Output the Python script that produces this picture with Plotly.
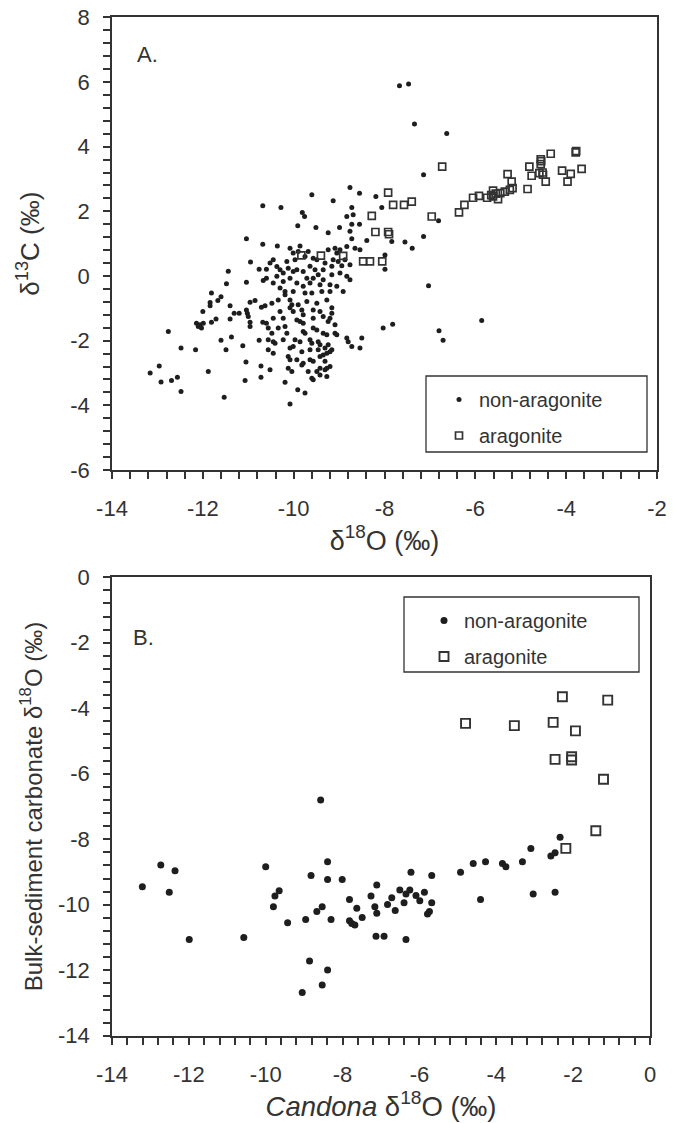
import plotly.graph_objects as go

# ---------------- Panel A data: d18O vs d13C ----------------
a_non_x = [
    # upper / middle dense cluster
    -8.76, -8.55, -9.60, -9.13, -8.19, -8.06, -8.72, -10.28, -9.81, -9.76, -8.83, -8.69, -9.91, -9.51, -9.24, -8.99,
    -8.72, -8.55, -8.76, -8.72, -8.39, -7.84, -10.36, -10.08, -9.86, -10.01, -9.90, -9.68, -9.75, -10.45, -10.52, -10.37,
    -10.15, -9.97, -9.57, -9.49, -9.24, -9.09, -9.05, -8.98, -8.83, -8.65, -8.54, -9.13, -9.02, -8.87, -8.94, -8.76,
    -9.16, -9.31, -10.30, -10.23, -10.37, -10.12, -10.01, -9.93, -9.79, -9.64, -9.53, -9.46, -9.35, -9.71, -9.57, -9.35,
    -9.16, -8.98, -8.83, -8.76, -9.64, -9.42, -9.20, -9.05, -9.93, -9.79, -10.08, -10.23, -10.45, -10.30, -7.99, -7.99,
    # left-upper
    -10.68, -11.04, -10.68, -10.95, -11.44, -10.76, -10.60, -11.48, -11.04, -10.67, -10.60,
    # left-lower
    -11.81, -11.60, -11.67, -11.84, -11.84, -11.40, -12.00, -11.31, -11.20, -10.96, -10.85, -11.04, -11.02, -11.00, -10.96, -10.96,
    -10.71, -10.63, -11.40, -11.71, -11.81, -12.14, -12.06, -12.03, -11.99, -12.10, -12.76, -11.60, -11.37, -11.49, -11.12, -10.76,
    -10.56, -12.48, -12.16, -12.96, -13.16, -12.92, -12.69, -12.56, -12.48, -11.88, -11.05, -10.72, -11.07, -10.72, -11.53, -10.68,
    -10.60, -10.56, -10.56,
    # lower dense cluster
    -10.19, -10.19, -10.01, -9.75, -9.60, -9.38, -9.20, -8.91,
    -10.48, -10.34, -10.08, -10.04, -10.08, -9.71, -9.49, -9.27, -9.90,
    -10.30, -10.01, -9.82, -9.79, -9.57, -9.42, -9.16, -9.16,
    -10.45, -10.23, -9.93, -9.86, -9.79, -9.57, -9.35, -9.20, -9.24, -9.09,
    -10.34, -10.19, -10.48, -10.15, -9.79, -9.75, -9.57, -9.49, -9.35, -9.27, -9.09, -9.05,
    -10.45, -10.41, -10.23, -9.97, -9.86, -9.64, -9.60, -9.46, -9.42, -9.24, -8.83, -8.80, -8.72, -8.54, -8.50, -8.03, -7.82,
    -10.08, -10.01, -9.82, -9.64, -9.46, -9.31, -9.27, -9.16,
    -10.45, -10.12, -10.08, -9.93, -9.79, -9.64, -9.57, -9.42, -9.35, -9.31, -9.20,
    -10.12, -10.04, -9.82, -9.68, -9.49, -9.42, -9.31, -9.27, -9.20,
    -10.52, -9.60, -9.57, -9.42, -9.27, -10.19, -9.91, -9.75, -10.08,
    # right-hand scattered points
    -7.67, -7.47, -7.34, -6.63, -7.14, -7.55, -7.39, -7.14, -6.81, -7.03, -5.86, -6.80, -6.71,
]
a_non_y = [
    2.74, 2.56, 2.51, 2.33, 2.46, 2.12, 2.12, 2.12, 1.96, 1.84, 1.84, 1.89, 1.55, 1.50, 1.34, 1.50,
    1.60, 1.60, 1.38, 1.15, 1.10, 1.07, 0.93, 0.86, 0.93, 0.71, 0.76, 0.76, 0.60, 0.50, 0.40, 0.29,
    0.45, 0.50, 0.55, 0.50, 0.81, 0.86, 0.71, 0.81, 0.91, 0.86, 0.81, 0.50, 0.45, 0.50, 0.32, 0.35,
    0.30, 0.40, 0.19, 0.09, -0.01, 0.24, 0.14, 0.19, 0.14, 0.30, 0.19, 0.04, 0.19, -0.07, -0.07, -0.12,
    0.04, 0.09, -0.01, -0.12, -0.22, -0.27, -0.27, -0.32, -0.22, -0.32, -0.07, -0.17, -0.22, -0.37, 0.65, 0.21,
    2.17, 1.15, 0.98, 0.43, 0.15, 0.21, 0.21, -0.24, -0.19, -0.14, -0.07,
    -0.53, -0.64, -0.76, -0.82, -0.92, -0.92, -1.10, -1.15, -1.15, -0.81, -0.76, -1.05, -1.15, -1.25, -1.43, -1.56,
    -0.97, -0.92, -1.33, -1.33, -1.43, -1.46, -1.51, -1.61, -1.46, -1.56, -1.72, -1.99, -1.89, -2.28, -2.16, -1.99,
    -2.28, -2.23, -2.28, -2.78, -3.00, -3.28, -3.23, -3.13, -3.57, -2.95, -2.66, -2.78, -3.23, -3.13, -3.75, -1.43,
    -1.46, -1.61, -1.97,
    -0.48, -0.58, -0.48, -0.53, -0.53, -0.48, -0.48, -0.48,
    -0.84, -0.74, -0.74, -0.89, -0.98, -0.79, -0.84, -0.74, -0.89,
    -1.10, -1.10, -1.05, -1.20, -1.05, -1.10, -1.15, -0.98,
    -1.31, -1.31, -1.36, -1.41, -1.46, -1.31, -1.25, -1.31, -1.41, -1.51,
    -1.61, -1.56, -1.77, -1.77, -1.72, -1.77, -1.61, -1.67, -1.77, -1.82, -1.77, -1.82,
    -2.03, -2.08, -1.97, -1.97, -2.03, -1.97, -2.08, -2.03, -2.13, -2.13, -1.92, -2.03, -2.18, -2.23, -1.92, -1.61, -1.49,
    -2.23, -2.18, -2.34, -2.28, -2.28, -2.23, -2.39, -2.28,
    -2.39, -2.49, -2.59, -2.59, -2.70, -2.59, -2.64, -2.49, -2.44, -2.64, -2.34,
    -2.85, -2.95, -2.75, -2.95, -2.95, -2.85, -2.90, -2.85, -2.80,
    -2.90, -3.16, -3.21, -3.06, -3.11, -3.29, -3.52, -3.62, -3.96,
    5.88, 5.94, 4.70, 4.41, 3.13, 1.05, 0.86, 1.22, 1.71, -0.30, -1.38, -1.69, -1.99,
]
a_ara_x = [
    -9.83, -9.40, -8.91, -8.47, -8.32, -8.05, -8.28, -8.20, -7.90, -7.92, -7.92, -7.81, -7.57, -7.40, -6.96, -6.73,
    -6.36, -6.24, -6.05, -5.92, -5.74, -5.61, -5.61, -5.50, -5.45, -5.35, -5.29, -5.20, -5.18, -5.24, -4.85, -4.81,
    -4.76, -4.56, -4.56, -4.59, -4.51, -4.45, -4.34, -4.09, -3.97, -3.90, -3.79, -3.66, -5.55, -5.65, -4.55, -3.78, -4.52,
]
a_ara_y = [
    0.64, 0.63, 0.62, 0.45, 0.45, 0.45, 1.86, 1.36, 1.29, 1.36, 2.58, 2.20, 2.20, 2.30, 1.84, 3.38,
    1.97, 2.20, 2.42, 2.48, 2.42, 2.64, 2.46, 2.38, 2.56, 2.61, 3.15, 2.92, 2.72, 2.66, 2.69, 3.38,
    3.10, 3.61, 3.46, 3.18, 3.13, 2.92, 3.78, 3.26, 2.92, 3.16, 3.82, 3.31, 2.55, 2.50, 3.55, 3.86, 3.20,
]

# ---------------- Panel B data: Candona d18O vs bulk d18O ----------------
b_non_x = [
    -8.57,
    -2.34, -3.10, -2.58, -2.47, -3.32, -3.84, -3.75, -4.28, -4.60, -4.93, -5.68, -6.22, -8.01, -7.11, -7.26, -7.16,
    -7.11, -7.82, -7.63, -7.49, -7.82, -7.76, -7.68, -7.13, -6.92, -6.72, -6.83, -6.63, -6.51, -6.40, -6.35, -6.25,
    -6.35, -6.09, -5.99, -5.87, -5.68, -5.79, -5.74, -4.41, -3.04, -2.47,
    -13.21, -12.73, -12.36, -12.51, -11.99, -10.57, -10.00, -9.80, -9.76, -9.65, -9.43, -8.96, -8.86, -9.05, -8.82,
    -8.67, -8.53, -8.39, -8.39, -8.30, -8.53, -8.39,
]
b_non_y = [
    -6.80,
    -7.94, -8.28, -8.51, -8.41, -8.69, -8.74, -8.84, -8.69, -8.74, -9.01, -9.11, -9.01, -9.23, -9.40, -9.73, -10.06,
    -10.26, -9.84, -10.11, -10.39, -10.49, -10.57, -10.62, -10.96, -10.96, -9.79, -9.99, -10.18, -9.55, -9.94, -9.67, -9.55,
    -11.06, -9.72, -9.88, -9.62, -9.94, -10.28, -10.21, -9.84, -9.67, -9.62,
    -9.45, -8.79, -8.96, -9.62, -11.06, -11.00, -8.84, -10.06, -9.73, -9.57, -10.55, -10.45, -11.72, -12.68, -9.11,
    -10.21, -10.06, -8.69, -9.23, -10.45, -12.45, -11.99,
]
b_ara_x = [-2.28, -1.10, -4.80, -3.53, -2.52, -1.94, -2.47, -2.04, -2.04, -1.21, -1.41, -2.19]
b_ara_y = [-3.65, -3.75, -4.46, -4.53, -4.43, -4.69, -5.56, -5.48, -5.58, -6.17, -7.74, -8.28]

# ---------------- Tick labels (hyphen minus, as in the reference) ----------------
tick_labels = ["-14", "-12", "-10", "-8", "-6", "-4", "-2", "0", "2", "4", "6", "8"]
TICK_STEP = 0.4      # spacing of the tick marks
LABEL_EVERY = 5      # one labelled tick every 2 units


def tick_spec(lo, hi):
    n = int(round((hi - lo) / TICK_STEP))
    vals = [round(lo + TICK_STEP * i, 2) for i in range(n + 1)]
    lookup = {float(t): t for t in tick_labels}
    text = [lookup.get(float(v), "") if i % LABEL_EVERY == 0 else "" for i, v in enumerate(vals)]
    return dict(tickmode="array", tickvals=vals, ticktext=text)


# ---------------- Figure ----------------
W, H = 678, 1123
FONT = "Liberation Sans, Arial, Helvetica, sans-serif"
TXT = "#333333"
DOT = "#1e1e1e"

fig = go.Figure()

fig.add_trace(go.Scatter(x=a_non_x, y=a_non_y, mode="markers", name="non-aragonite",
                         marker=dict(symbol="circle", size=5, color=DOT),
                         xaxis="x", yaxis="y", legend="legend", legendgroup="a1"))
fig.add_trace(go.Scatter(x=a_ara_x, y=a_ara_y, mode="markers", name="aragonite",
                         marker=dict(symbol="square-open", size=7, color="#333333", line=dict(width=1.7)),
                         xaxis="x", yaxis="y", legend="legend", legendgroup="a2"))
fig.add_trace(go.Scatter(x=b_non_x, y=b_non_y, mode="markers", name="non-aragonite",
                         marker=dict(symbol="circle", size=7, color=DOT),
                         xaxis="x2", yaxis="y2", legend="legend2", legendgroup="b1"))
fig.add_trace(go.Scatter(x=b_ara_x, y=b_ara_y, mode="markers", name="aragonite",
                         marker=dict(symbol="square-open", size=9, color="#333333", line=dict(width=1.9)),
                         xaxis="x2", yaxis="y2", legend="legend2", legendgroup="b2"))


def px_x(p):
    return p / W


def px_y(p):
    return 1 - p / H


tickfont = dict(family=FONT, size=22, color=TXT)
common = dict(showline=True, linecolor="#333333", linewidth=1.8, mirror=True,
              ticks="outside", ticklen=7, tickwidth=1.5, tickcolor="#333333",
              showgrid=False, zeroline=False, tickfont=tickfont, automargin=False)

fig.update_layout(
    width=W, height=H,
    margin=dict(l=0, r=0, t=0, b=0, autoexpand=False),
    paper_bgcolor="white", plot_bgcolor="white",
    font=dict(family=FONT, color=TXT),
    xaxis=dict(domain=[px_x(112), px_x(657)], range=[-14, -2], anchor="y", ticklabelstandoff=11,
               title=dict(text="δ<sup>18</sup>O (‰)", font=dict(family=FONT, size=27, color=TXT), standoff=5),
               **tick_spec(-14, -2), **common),
    yaxis=dict(domain=[px_y(470), px_y(17.3)], range=[-6, 8], anchor="x", ticklabelstandoff=9,
               title=dict(text="δ<sup>13</sup>C (‰)", font=dict(family=FONT, size=26, color=TXT), standoff=23),
               **tick_spec(-6, 8), **common),
    xaxis2=dict(domain=[px_x(112), px_x(650)], range=[-14, 0], anchor="y2", ticklabelstandoff=11,
                title=dict(text="<i>Candona</i> δ<sup>18</sup>O (‰)", font=dict(family=FONT, size=27.5, color=TXT), standoff=5),
                **tick_spec(-14, 0), **common),
    yaxis2=dict(domain=[px_y(1035.7), px_y(577.3)], range=[-14, 0], anchor="x2", ticklabelstandoff=9,
                title=dict(text="Bulk-sediment carbonate δ<sup>18</sup>O (‰)", font=dict(family=FONT, size=24, color=TXT), standoff=9),
                **tick_spec(-14, 0), **common),
    legend=dict(x=px_x(439), y=px_y(380), xanchor="left", yanchor="top",
                bgcolor="rgba(0,0,0,0)", borderwidth=0,
                font=dict(family=FONT, size=20, color=TXT),
                traceorder="grouped", tracegroupgap=7),
    legend2=dict(x=px_x(424), y=px_y(601), xanchor="left", yanchor="top",
                 bgcolor="rgba(0,0,0,0)", borderwidth=0,
                 font=dict(family=FONT, size=20, color=TXT),
                 traceorder="grouped", tracegroupgap=7),
    showlegend=True,
    shapes=[
        dict(type="rect", xref="paper", yref="paper",
             x0=px_x(426), x1=px_x(647), y0=px_y(452), y1=px_y(376),
             line=dict(color="#333333", width=1.3), fillcolor="rgba(0,0,0,0)", layer="below"),
        dict(type="rect", xref="paper", yref="paper",
             x0=px_x(404), x1=px_x(639), y0=px_y(672), y1=px_y(597),
             line=dict(color="#333333", width=1.3), fillcolor="rgba(0,0,0,0)", layer="below"),
    ],
    annotations=[
        dict(text="A.", xref="paper", yref="paper", x=px_x(135), y=px_y(55), xanchor="left", yanchor="middle",
             showarrow=False, font=dict(family=FONT, size=22, color=TXT)),
        dict(text="B.", xref="paper", yref="paper", x=px_x(131), y=px_y(637), xanchor="left", yanchor="middle",
             showarrow=False, font=dict(family=FONT, size=22, color=TXT)),
    ],
)

fig.write_html("out.html")
